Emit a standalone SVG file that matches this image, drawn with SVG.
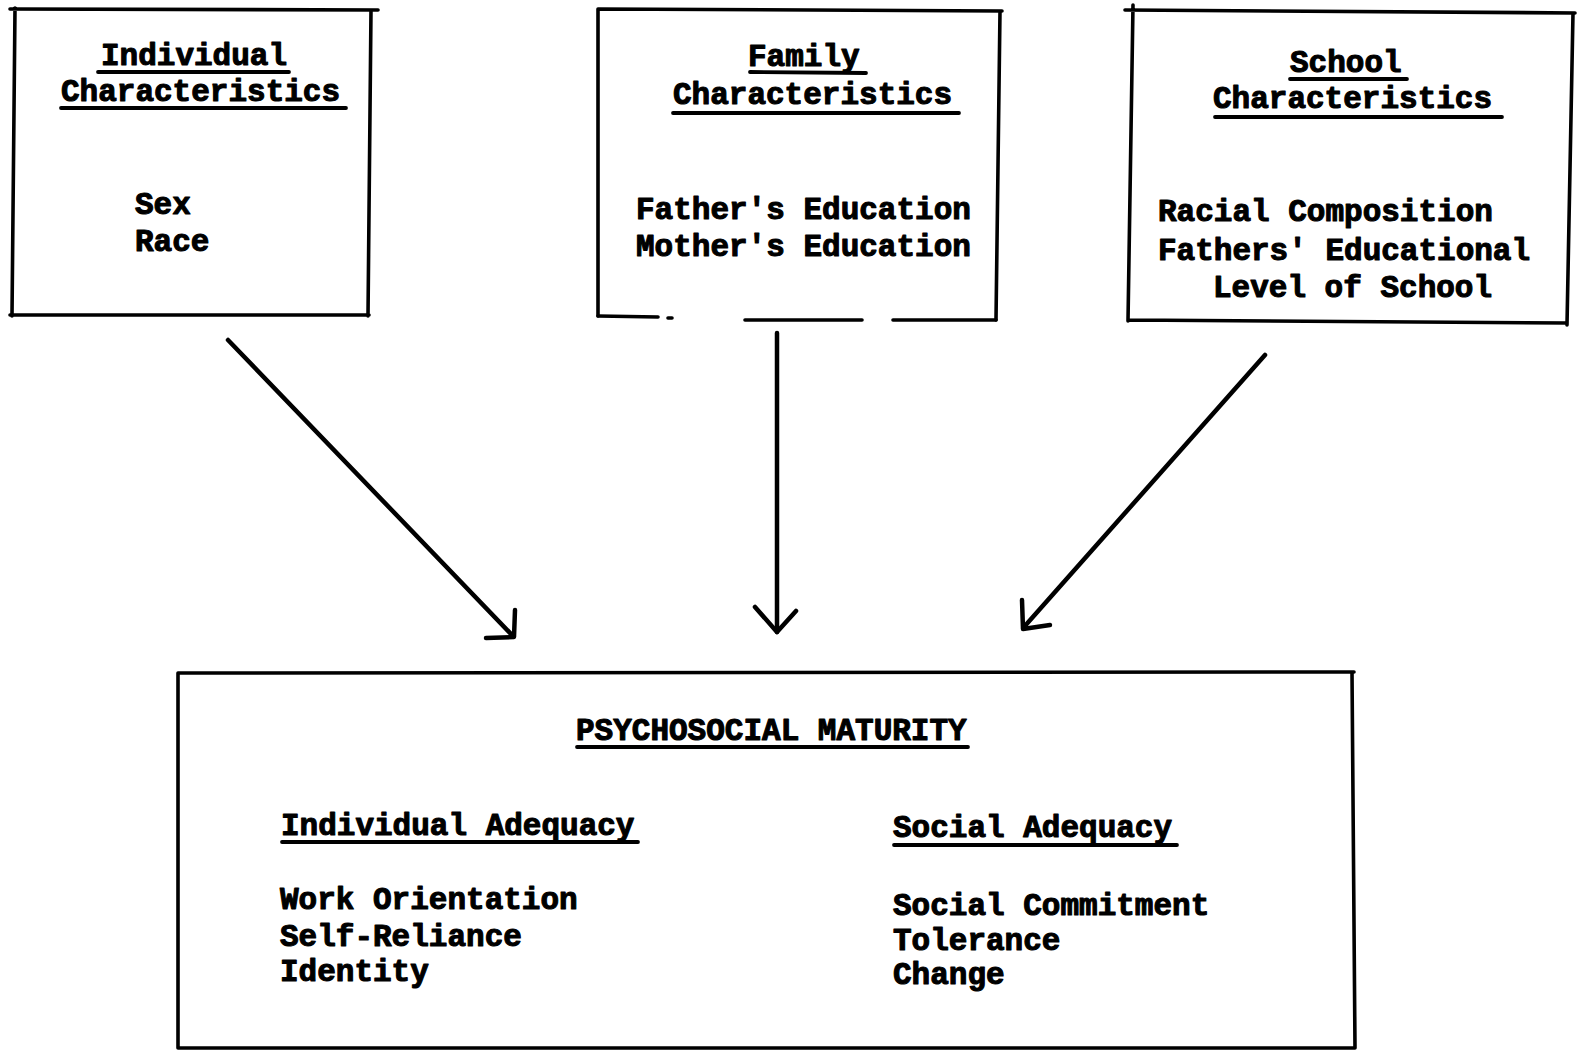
<svg xmlns="http://www.w3.org/2000/svg" width="1580" height="1051" viewBox="0 0 1580 1051">
<style>
.bx{fill:none;stroke:#000;stroke-width:3.6;stroke-linecap:round;stroke-linejoin:round}
.t{font-family:"Liberation Mono","DejaVu Sans Mono",monospace;font-weight:bold;font-size:31px;fill:#000;stroke:#000;stroke-width:1.1;stroke-linejoin:round}
.ul{stroke:#000;stroke-width:3.8;stroke-linecap:round}
.ar{fill:none;stroke:#000;stroke-width:4.5;stroke-linecap:round;stroke-linejoin:round}
</style>
<rect width="1580" height="1051" fill="#fff"/>

<g id="node-individual">
  <path class="bx" d="M10,9 L378,10 M371,10 L368,316 M369,315 L10,315 M12,316 L15,8"/>
  <text class="t" x="101" y="65">Individual</text>
  <line class="ul" x1="98" y1="72" x2="289" y2="72"/>
  <text class="t" x="61" y="101">Characteristics</text>
  <line class="ul" x1="61" y1="108" x2="346" y2="108"/>
  <text class="t" x="135" y="214">Sex</text>
  <text class="t" x="135" y="251">Race</text>
</g>

<g id="node-family">
  <path class="bx" d="M598,9 L1002,11 M1000,11 L996,320 M598,9 L598,316"/>
  <path class="bx" d="M598,316 L658,317 M668,318 L672,318 M745,320 L862,320 M893,320 L996,320"/>
  <text class="t" x="748" y="66">Family</text>
  <line class="ul" x1="750" y1="72" x2="866" y2="73"/>
  <text class="t" x="673" y="104">Characteristics</text>
  <line class="ul" x1="673" y1="113" x2="959" y2="113"/>
  <text class="t" x="636" y="219">Father's Education</text>
  <text class="t" x="636" y="256">Mother's Education</text>
</g>

<g id="node-school">
  <path class="bx" d="M1125,10 L1575,13 M1573,13 L1567,325 M1567,323 L1128,320 M1128,321 L1133,5"/>
  <text class="t" x="1290" y="72">School</text>
  <line class="ul" x1="1290" y1="79" x2="1407" y2="79"/>
  <text class="t" x="1213" y="108">Characteristics</text>
  <line class="ul" x1="1215" y1="117" x2="1502" y2="117"/>
  <text class="t" x="1158" y="221">Racial Composition</text>
  <text class="t" x="1158" y="260">Fathers' Educational</text>
  <text class="t" x="1213" y="297">Level of School</text>
</g>

<g id="node-psychosocial">
  <path class="bx" d="M178,673 L1354,672 M1352,672 L1355,1048 M1355,1048 L178,1048 M178,1048 L178,673"/>
  <text class="t" x="576" y="740">PSYCHOSOCIAL MATURITY</text>
  <line class="ul" x1="577" y1="747" x2="968" y2="747"/>
  <text class="t" x="281" y="835">Individual Adequacy</text>
  <line class="ul" x1="282" y1="842" x2="638" y2="842"/>
  <text class="t" x="280" y="909">Work Orientation</text>
  <text class="t" x="280" y="946">Self-Reliance</text>
  <text class="t" x="280" y="981">Identity</text>
  <text class="t" x="893" y="837">Social Adequacy</text>
  <line class="ul" x1="894" y1="845" x2="1177" y2="845"/>
  <text class="t" x="893" y="915">Social Commitment</text>
  <text class="t" x="893" y="950">Tolerance</text>
  <text class="t" x="893" y="984">Change</text>
</g>

<g id="connectors">
  <path class="ar" d="M228,340 L513,636"/>
  <path class="ar" d="M515,610 L514,637 L486,638"/>
  <path class="ar" d="M777,333 L777,632"/>
  <path class="ar" d="M755,607 L777,632 L796,611"/>
  <path class="ar" d="M1265,355 L1024,627"/>
  <path class="ar" d="M1022,600 L1023,629 L1050,625"/>
</g>
</svg>
